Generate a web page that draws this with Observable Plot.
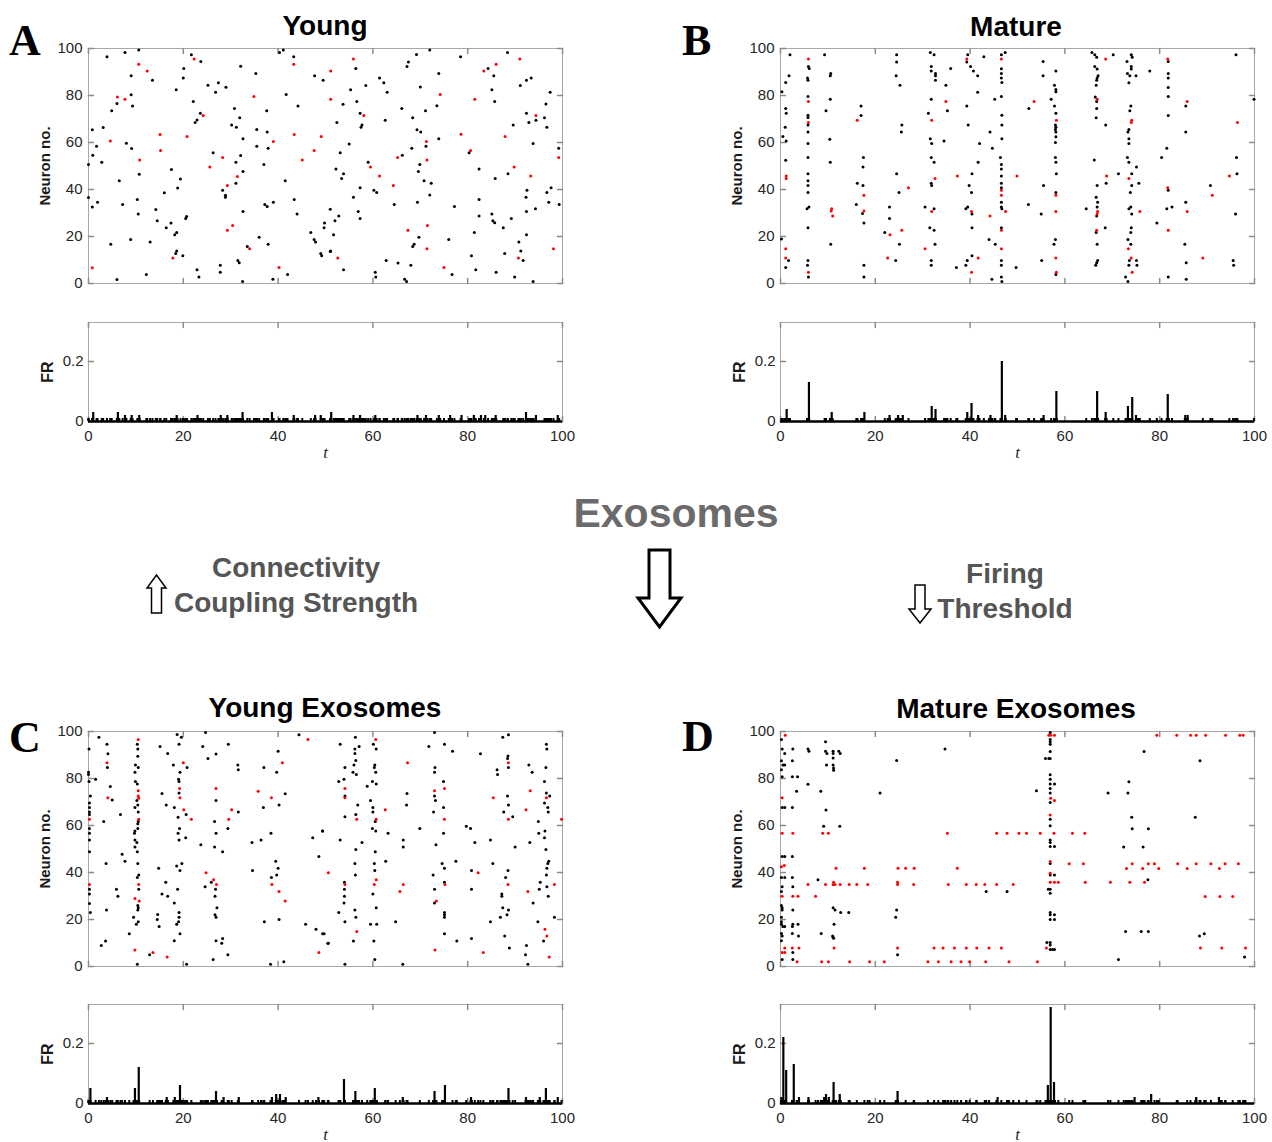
<!DOCTYPE html>
<html><head><meta charset="utf-8">
<script src="https://cdn.jsdelivr.net/npm/d3@7"></script>
<script src="https://cdn.jsdelivr.net/npm/@observablehq/plot@0.6"></script>
<style>
html,body{margin:0;padding:0;background:#fff;}
#root{position:relative;width:1272px;height:1142px;overflow:hidden;background:#fff;}
.p{position:absolute;}
#overlay{position:absolute;left:0;top:0;pointer-events:none;}
</style></head><body><div id="root"></div>
<script>
// ---------------- DATA ----------------
const youngBlack = [[3.9,96.5],[7.7,98.3],[10.6,99.4],[9,88.4],[13.5,86.5],[6,76.6],[9,80.3],[9.3,75.5],[4.9,73.5],[0.8,65.4],[3.1,66.4],[1.7,58.4],[0.9,54.6],[2.8,51.6],[0,50.6],[8,59.7],[9.1,57.4],[10.7,46.5],[6.5,43.7],[0,36.6],[1.9,34.6],[0.8,32.6],[7.2,33.6],[10.3,35.7],[10.5,29.6],[4.7,16.7],[8.9,18.7],[6,1.7],[12.2,3.8],[13,17.7],[14.2,31.5],[14.5,26.7],[16.4,23.7],[17.4,25.7],[16,38.6],[17.5,48.5],[19.4,44.5],[18.8,40.6],[18.2,20.7],[18.6,21.7],[20.5,27.7],[20.7,28.5],[18.4,12.8],[18.6,13.8],[19.9,11.8],[22.9,5.8],[23.3,2.8],[18.5,82.4],[20,87.5],[20.1,91.5],[21.7,97.3],[23.7,94.5],[22.1,77.4],[23.6,72.5],[22.9,69.6],[22.5,68.5],[25.2,84.4],[27.4,85.4],[26.8,81.4],[29,83.5],[26.3,55.6],[30.8,74.5],[31.9,70.5],[30.2,67.5],[31.2,66.5],[32.6,61.6],[32.1,54.5],[31.1,51.6],[32.6,47.7],[31.1,42.7],[28.3,39.7],[28.9,37.6],[28.9,36.7],[32.6,30.6],[33.5,15.7],[31.5,9.8],[31.8,8.8],[27.8,7.8],[27.8,4.8],[32.5,0.9],[32.1,92.5],[35.3,89.4],[37.6,73.5],[35.5,65.5],[37.7,64.5],[35.5,58.4],[37.9,57.6],[37,50.6],[37.2,33.6],[37.7,32.8],[39,34.6],[36,19.7],[37.9,16.7],[38.9,1.8],[42,3.8],[40.3,98.3],[41.1,99.4],[43.3,96.5],[41.7,80.4],[44.2,75.5],[41.5,43.7],[43.4,35.7],[44,29.6],[46.9,21.7],[47.6,18.7],[47.9,17.7],[49,12.8],[49.2,11.8],[49.7,23.7],[49.8,25.7],[51,31.6],[51,13.6],[47.7,88.4],[49.5,86.5],
[56.4,91.5],[55.3,82.4],[56.6,77.4],[53.7,76.3],[52.4,68.5],[57.3,72.5],[57.7,67.5],[57.5,66.5],[58.5,84.3],[61.4,87.5],[62.3,85.4],[63,81.4],[62.6,69.5],[55,59.4],[53.1,55.6],[52.2,48.7],[53.8,46.7],[53.4,44.7],[59,51.6],[57.3,40.7],[55.9,36.7],[60.2,39.7],[60.8,38.7],[64.5,33.6],[66.2,54.6],[68.2,57.6],[52.8,28.7],[52,26.7],[51.7,20.7],[56.9,30.6],[57.3,27.7],[51.1,13.8],[53.8,5.8],[60.5,4.8],[60.6,2.8],[62.8,9.8],[65.3,8.7],[68,7.8],[66.7,1.8],[67.1,0.9],[68.4,15.7],[68.7,16.7],[69.7,19.7],[69.4,34.6],[70.8,43.7],[72.3,42.7],[72,37.7],[69.6,47.7],[69.9,50.6],[71.2,58.4],[69.3,65.4],[70.1,64.5],[68.4,70.5],[66.1,74.5],[71.1,73.5],[70,83.6],[67.2,92.3],[67.5,94.3],[69.2,97.4],[72,99.4],[73.9,89.4],[73.5,75.6],[73.9,61.6],[78.5,96.5],[80.3,55.6],[82.4,48.7],[77.2,32.8],[82.4,35.7],[82.4,28.7],[81.4,21.7],[76,18.7],[80.8,11.8],[81.7,5.8],[76.7,3.8],[84.3,91.5],[85.5,88.4],[85.1,82.4],[85.7,77.4],[88.4,98.3],[91.1,84.3],[92.4,86.5],[93.4,87.5],[97.4,81.4],[96.5,76.4],[92.4,72.5],[92.9,68.5],[94.4,69.5],[96.2,70.5],[96.7,66.5],[89.6,67.5],[93.8,59.6],[99.2,57.6],[88.5,46.7],[85.8,44.7],[92.5,39.7],[92.3,36.7],[92.4,30.6],[94.3,31.8],[96.7,38.7],[97.6,40.7],[97.1,34.6],[99.3,33.6],[85.1,29.6],[85.3,26.7],[85.7,25.8],[87.5,23.7],[89.2,27.7],[92.4,20.7],[90.8,17.7],[91.2,13.8],[91.7,9.8],[87.8,12.8],[86,4.8],[89.9,2.8],[93.8,0.9]];
const youngRed = [[10.6,93.3],[12.4,90.4],[6.1,79.4],[7.7,78.4],[4.6,60.6],[10.8,52.6],[15.1,63.4],[15.2,56.6],[0.8,6.7],[17.8,10.8],[22.3,95.5],[24.2,71.5],[20.8,62.6],[28.3,53.6],[25.6,49.6],[31.4,45.5],[29.3,41.7],[30.4,24.7],[29.3,22.7],[34,14.8],[34.9,79.6],[39,60.4],[40.2,6.8],[43.3,93.3],[43.4,63.4],[49.1,62.6],[47.6,56.6],[45.1,52.6],[51.1,78.4],[51.1,90.4],[55.9,95.5],[58.1,71.5],[59.5,49.6],[61.4,45.7],[64.3,41.7],[65.2,53.6],[52.6,10.8],[67.4,22.7],[71.5,24.7],[71.4,14.8],[71.4,52.6],[71.3,60.4],[74.2,80.4],[81.5,78.4],[78.6,63.5],[80.6,56.6],[75,6.8],[83.4,90.4],[86,93.3],[91,95.5],[94.4,71.5],[87.9,62.6],[99.2,53.6],[89.8,49.6],[93.3,45.7],[90.7,10.8],[98.1,14.8]];

const matureBlack = [[2,97.3],[5.9,92.3],[6.05,91.5],[9.3,97.3],[1.8,88.4],[1.1,85.5],[0.3,81.6],[10.6,89.4],[10.5,88.4],[5.7,87.4],[5.8,86.5],[5.8,79.6],[10.5,78.4],[1.1,74.5],[1.2,72.5],[5.8,71.6],[5.8,70.6],[5.8,67.4],[5.8,64.5],[9.6,73.5],[17,75.5],[17,71.5],[1,66.5],[0.5,62.6],[1.2,60.6],[5.8,59.6],[10.4,61.4],[1.1,52.5],[5.8,53.6],[10.5,51.6],[17.5,53.6],[17.4,49.6],[5.8,46.7],[5.8,43.7],[5.8,41.7],[5.8,38.7],[16.2,42.7],[17.4,41.7],[16,33.6],[5.6,31.8],[6,32.6],[17.3,29.8],[17.6,25.7],[5.8,23.7],[0.2,18.9],[1.7,9.8],[1.1,6.8],[10.6,16.7],[5.8,9.8],[5.7,7.8],[5.9,2.8],[17.6,7.8],[17.6,2.8],[24.5,97.3],[24.5,94.3],[24.4,88.4],[25.2,84.4],[25.6,67.5],[25.5,64.5],[24.5,46.7],[25,38.7],[23,32.6],[23,27.7],[22,21.7],[25.1,16.7],[24.3,9.8],[31.6,98.3],[32.4,97.3],[31.8,92.3],[31.8,90.4],[32.7,89.4],[32.7,88.4],[32.7,86.5],[31.8,78.4],[31.2,72.5],[31.6,61.6],[31.9,59.6],[34.5,60.6],[31.8,53.6],[32.4,51.6],[31.8,42.7],[31.9,41.7],[30.5,32.6],[32.4,31.8],[31.5,23.7],[32.4,22.7],[32.6,16.7],[31.8,9.8],[31.8,7.8],[35.9,91.5],[34.9,84.4],[35.2,73.5],[37.1,6.8],[39.5,97.3],[40.1,92.3],[40.7,90.4],[41.6,88.4],[39.3,94.3],[42.9,96.5],[41.6,81.4],[39.3,75.5],[39.6,67.5],[42,59.6],[41.7,51.6],[40.4,46.7],[39.8,41.7],[40.3,38.7],[39.1,31.8],[39.5,32.6],[40.4,29.6],[40.4,23.7],[40.4,11.8],[39.4,9.8],[39.1,7.8],[44,18.7],[45.3,16.7],[44.7,57.6],[44.2,64.5],[45.2,78.4],[46.6,97.3],[47.4,98.3],[46.6,91.4],[46.6,89.4],[46.6,87.4],[46.7,85.5],[46.6,79.6],[46.7,71.6],[46.7,67.5],[46.7,61.6],[46.4,53.6],[46.6,50.6],[46.6,48.7],[46.6,45.7],[46.6,42.7],[46.6,40.7],[46.6,34.6],[46.6,32.6],[46.7,31.8],[46.6,23.7],[46.6,9.8],[46.6,7.8],[46.6,2.8],[46.7,0.9],[44.6,1.8],[49.7,6.8],
[55.4,94.5],[55.4,88.4],[58.1,90.4],[57.8,84.4],[58.1,82.6],[58.1,81.6],[57.1,78.4],[52.4,74.5],[57.8,75.5],[58.1,72.5],[58,67.5],[58.1,66.5],[58,65.5],[58.1,64.5],[58.1,62.5],[58,60],[58,53.6],[58.1,51.6],[58.2,46.7],[55.5,41.7],[58.1,38.7],[52.3,33.6],[55,29.6],[58,18.7],[57.7,16.7],[55.1,9.8],[58.1,3.8],[65.7,98.3],[66.3,97.3],[66.7,96.3],[70.2,97.3],[66.3,92.3],[66.8,91.3],[67,88.4],[66.8,87.4],[66.7,86.5],[66.6,84.4],[66.4,79.4],[66.7,77.4],[66.7,74.5],[66.6,70.5],[68.6,67.5],[66.2,52.6],[68.7,42.7],[66.8,41.7],[66.6,36.7],[66.9,34.6],[66.8,32.6],[66.7,28.7],[64.5,31.8],[66.6,21.7],[68.5,23.7],[66.8,16.7],[66.9,9.8],[66.7,8.8],[66.5,7.8],[71.3,46.7],[74,97.3],[74.2,96.3],[73.1,94.5],[74,92.3],[74,91.3],[73.2,89.4],[73.7,88.4],[75,88.4],[73.5,85.4],[77.9,90.4],[73.9,75.5],[73.7,73.5],[73.5,65.5],[73.3,64.5],[73.5,61.6],[73.5,59.6],[73.2,53.6],[73.5,51.6],[75.1,49.6],[74.1,46.7],[75.6,42.7],[74.1,41.7],[73.8,38.7],[73.9,32.6],[73.5,31.8],[74.1,29.6],[74,23.7],[73.9,21.7],[73.3,18.7],[73.9,16.7],[73.6,9.8],[73.5,7.8],[75.1,9.8],[75.2,7.8],[72.8,2.8],[73.3,0.9],[79.4,25.7],[80.4,53.6],[81.8,94.5],[81.8,89.4],[81.8,87.4],[81.8,83.4],[81.8,79.6],[81.8,71.5],[81.5,57.6],[81.8,39.7],[81.5,31.8],[82.6,32.6],[81.8,2.8],[85.5,75.5],[85.5,64.5],[85.5,34.6],[85.3,16.7],[85.6,8.8],[85.6,1.8],[90.7,41.7],[96.3,46.7],[96.2,53.6],[96.1,97.3],[96,29.6],[95.5,9.8],[95.6,7.8],[99.9,78.4]];
const matureRed = [[5.9,95.5],[5.9,77.4],[5.9,68.5],[16.2,69.5],[1.2,45.7],[1.2,44.7],[17.6,37.6],[10.8,31.8],[10.7,30.8],[11,28.7],[17.6,30.8],[1.1,14.8],[1.1,10.8],[5.9,4.8],[27,40.7],[23.1,20.7],[25.6,22.7],[22.6,10.8],[31.9,69.5],[32.6,44.7],[31.9,30.6],[30.5,14.8],[34.9,77.4],[37.3,45.7],[39.3,95.5],[40.3,30.6],[44.2,28.7],[41.7,10.8],[40.3,4.8],[46.6,95.5],[46.6,39.7],[46.6,37.6],[47.5,30.6],[46.6,22.7],[46.6,14.8],[49.9,45.7],[53.5,77.4],[58.2,69.5],[58.1,37.6],[58.1,30.6],[58.1,10.8],[58.2,4.8],[68.6,95.5],[66.8,78.4],[68.8,45.7],[66.9,30.6],[66.8,29.6],[66.7,22.7],[74.1,69.5],[74,68.5],[73.5,44.7],[75.8,30.6],[73.4,14.8],[74,10.8],[74.2,4.8],[81.7,95.5],[81.7,40.7],[81.8,22.7],[85.8,77.4],[85.8,30.6],[89.1,10.8],[91.1,37.6],[94.7,45.7],[96.4,68.5]];

const youngExoBlack = [[2.2,97.6],[0.1,92.6],[3.9,94.6],[4.1,90.5],[4,84.7],[0,82.7],[0,81.7],[1.5,79.7],[0.1,78.7],[4.6,76.6],[0.4,72.6],[5,70.8],[0.2,69.6],[0.2,67.7],[0.2,65.7],[0.2,64.7],[6.75,64.7],[3.2,61.7],[0.2,58.7],[0.2,56.7],[0.2,53.8],[0.2,48.8],[7.1,47.8],[7.7,44.8],[3.7,43.8],[0.2,32.9],[0.2,30.9],[5.9,32.9],[6.2,29.9],[0.2,26.8],[0.4,23],[3.8,24],[3.6,10.9],[2.7,8.9],[10.3,94.6],[10.4,92.6],[10.4,89.5],[9.9,85.7],[10.5,84.7],[9.8,82.7],[9.9,78.7],[10.3,77.7],[10.2,70.6],[9.8,67.7],[10.4,68.7],[10.5,65.7],[10.5,61.7],[10.4,60.7],[10.4,58.7],[9.8,57.7],[9.7,56.7],[9.8,53.8],[10.2,52.8],[9.8,50.8],[10.3,48.8],[10.4,43.8],[10.6,38.9],[10.3,37.9],[10.6,32.9],[10.4,26],[10.5,25],[10.4,24],[9.5,21],[10.1,18],[10.5,19],[8.6,13.9],[10.3,1],[12.9,5],[15.1,93.6],[16.7,90.6],[17.9,85.7],[18.7,98.7],[19.6,97.6],[19.1,94.6],[20.8,84.7],[19.3,82.7],[19,79.7],[19.1,78.7],[19.1,73.8],[15.5,73.6],[16.4,68.7],[18.1,67.7],[18.9,63.5],[20.6,64.7],[19.2,58.7],[18.9,56.7],[19.1,53.8],[20.5,54.8],[14.8,41.8],[18.6,42.8],[19.7,43.8],[19.3,40.9],[16.3,35.9],[18.8,32.9],[15.5,30.9],[16.7,29.9],[18.1,27],[19.1,23],[19.1,21],[19,19],[14.6,22.1],[14.5,20],[14.9,17],[18.6,18],[19.3,13.9],[18.1,11],[20.7,1],[24.7,99.6],[24.1,93.6],[25.2,88.5],[26.9,90.4],[26.9,70.6],[26.6,61.7],[26.9,56.7],[26.6,50.8],[23.7,51.8],[28.3,48.8],[25.9,35.9],[24.6,33.9],[26.8,32.9],[26.7,29.9],[27.1,25],[26.7,22],[26.9,21],[26.9,11],[28.3,11.9],[28.1,9.9],[26.3,3],[29.4,5],[29.5,94.6],[31.5,85.7],[31.6,83.7],[31.6,65.7],[29.4,58.7],[37,84.7],[36.9,67.7],[34.5,52.8],[36.4,53.8],[38.5,56.7],[34.6,40.9],[40.2,68.7],[41.5,73.5],[39.7,82.7],[40,91.6],[39.5,44.8],[40,41.8],[39.7,38.9],[38.6,37.9],[37.1,19],[40.2,20],[38.4,1],[41.2,2],[44.4,98.6],[47.3,54.8],[49.4,57.7],[48.6,46.8],[45.8,18],[48,15.9],[49.7,13.9],[50.6,9.9],
[56.3,97.6],[53.1,94.6],[56.2,92.6],[56.2,90.6],[57.1,93.6],[60.1,94.6],[60.7,92.6],[56.4,87.7],[56,85.7],[55.8,82.7],[56.5,81.7],[54.1,84.7],[60.4,85.7],[60.3,84.7],[60.6,82.7],[59.9,78.7],[60.7,77.7],[58.8,76.7],[52.8,78.7],[53.9,79.7],[54.1,72.6],[56.8,68.7],[56.4,64.7],[59.5,70.6],[60,67.7],[60,65.7],[60.5,61.7],[59.9,58.7],[60.6,57.7],[63.2,56.7],[54.1,63.7],[49.4,57.7],[53.1,53.8],[57.7,52.8],[56.4,49.8],[56.2,43.8],[56.3,38.9],[54,35.9],[54,32.9],[54,29.9],[53.9,27],[60.5,48.8],[60.3,43.8],[60.4,40.9],[60,30.9],[60.7,25],[62.7,44.8],[66.4,53.8],[66.4,50.8],[69.9,58.7],[67.2,73.6],[67.1,68.7],[52.8,23],[56.2,24],[56.4,21],[54.1,19],[55.9,10.9],[59.5,18],[60.8,18],[60.2,10.9],[60.4,3],[54.1,1],[64.8,19],[66.3,1],[49.4,13.9],[50.5,9.9],[73,99.6],[71.8,93.6],[75.1,94.6],[76.8,91.6],[73.1,84.7],[73,82.7],[74.9,78.7],[73,72.6],[73.2,70.6],[74.9,67.7],[72.8,65.7],[74.9,56.7],[73.3,51.8],[74.6,43.8],[75.1,41.8],[72.7,38.9],[75.1,35.9],[73,32.9],[73,27],[75.1,23],[75.1,22],[75.1,21],[75.1,13.9],[77.5,44.8],[77.7,10.9],[80.8,11.9],[79.7,59.7],[80.6,58.7],[81.5,52.8],[80.8,40.9],[80.8,32.9],[82.7,90.5],[84.8,53.8],[85.3,43.8],[87.4,97.6],[88.6,98.6],[88.5,89.6],[88.4,88.5],[88.6,84.7],[86.2,83.7],[86.3,81.7],[88.4,72.6],[88.6,68.7],[87.6,65.7],[89.5,63.7],[90,50.8],[88.5,40.9],[88,37.9],[87.2,30.9],[87.2,29.9],[87.4,25],[88.6,24],[86.9,21],[88.3,22],[84.8,19],[87.8,13],[88.8,7.9],[92.9,85.7],[93.6,82.7],[93.1,52.8],[96.6,94.6],[96.7,92.6],[96.5,84.7],[96.2,78.7],[96.6,73.8],[97.3,72.6],[96.2,69.6],[96.9,67.7],[97,65.7],[94.9,61.7],[96.3,57.7],[95,56.7],[96.2,54.8],[96.5,49.8],[97.1,44.8],[96.9,43.8],[96.7,41.8],[96.6,38.9],[95.3,35.9],[95.1,32.9],[96.7,33.9],[97,29.9],[93.8,27],[98.3,21],[94.8,19],[96,10.9],[92.4,8.9],[92.2,5],[92.7,1]];
const youngExoRed = [[10.5,96.6],[3.9,86.7],[4.1,71.8],[0.2,62.7],[0.2,34.9],[10.5,74.8],[10.5,72.6],[10.6,71.6],[10.6,62.7],[10.6,34.9],[9.8,28.9],[10.7,27.9],[9.8,7],[13.6,6],[16.6,4],[20,86.7],[19.2,75.7],[19.3,71.8],[20.1,66.7],[21.7,62.7],[26.9,75.7],[24.8,39.9],[26.4,36.9],[27,34.9],[30.2,66.7],[29.6,62.7],[35.8,74.6],[38.6,71.8],[40.9,86.7],[38.7,34.9],[40.2,31.9],[41.5,27.9],[46.3,96.6],[50.6,39.9],[48.6,6],[60.6,96.6],[54.1,75.7],[54.1,71.8],[56.6,62.7],[60.7,62.7],[62.6,66.7],[54.1,34.9],[60.7,36.9],[60.3,34.9],[66.4,34.9],[65.7,31.9],[67.3,86.7],[56.6,14.9],[73,74.8],[75.1,75.7],[75.1,62.7],[75.2,34.9],[73.4,27.9],[73.1,7],[82.2,39.9],[83.3,6],[85.4,71.8],[88.6,86.7],[88.6,62.7],[88.5,34.9],[93.2,74.8],[92.3,66.7],[96.6,71.8],[98.3,34.9],[92.7,31.9],[96.3,15.9],[96.7,13],[97.2,4],[99.8,62.7]];

const matureExoBlack = [[0.2,96.6],[0.35,92.6],[0.9,90.6],[0.2,87.6],[0.5,85.7],[0.9,85.7],[0.2,83.7],[0.35,80.7],[2.6,92.6],[2.5,87.6],[2.5,80.7],[3.6,80.7],[5.8,92.6],[6,91.6],[9.5,95.6],[9.5,91.6],[9.8,90.6],[11.1,91.6],[11.1,90.6],[12.3,91.6],[12.6,90.6],[11.1,88.7],[9.7,85.7],[11.1,85.7],[11.2,84.5],[11.2,83.5],[5.8,77.6],[3.4,74.6],[8.5,74.6],[0.35,67.7],[0.9,67.7],[2.5,67.7],[9.6,66.6],[9.1,59.7],[12.5,59.7],[0.35,46.8],[0.9,46.8],[2.5,46.8],[0.2,37.9],[0.9,37.9],[2.5,37.9],[7.9,36.9],[0.35,33.9],[2.6,33.9],[0.2,31.9],[0.2,26],[0.35,25],[0.35,24],[2.6,24],[11.1,25],[11.5,24],[12.7,23],[14.4,23],[0.2,21],[0.2,19],[0.2,18],[0.5,17],[0.9,17],[2.6,18],[2.5,17],[3.7,18],[11.3,18],[0.2,14],[0.35,13],[2.5,14],[3.8,13],[8.6,14],[11,13],[11.2,12],[11.1,12.5],[0.2,11],[2.6,6],[0.35,3],[2.6,3],[24.5,87.7],[21,73.8],[24.5,24],[24.3,21],[24.7,5],[34.7,92.6],[43.4,31.9],[47.8,31.9],
[56.9,99.6],[56.9,96.6],[56.9,95.6],[56.9,94.6],[56.9,91.5],[56.9,88.5],[56.9,81.6],[56.9,79.7],[56.9,77.7],[56.9,75.7],[56.9,73.8],[56.9,69.8],[56.9,62.7],[56.9,59.9],[56.9,53.8],[56.9,52.8],[56.9,51.1],[56.9,43.8],[56.9,38.9],[56.9,32.9],[56.9,31.2],[56.9,23],[56.9,22],[56.9,20],[56.9,10.2],[56.9,9.1],[56.9,7.2],[55.9,88.5],[56.6,88.5],[57.8,77.7],[57.8,51.1],[57.8,38.9],[56.5,32.9],[57.8,22],[57.8,20],[56.2,10.2],[57.4,7.2],[57.8,7.2],[54,74.8],[76.7,91.5],[88.5,87.6],[73.5,78.6],[69.1,73.8],[73.3,73.8],[74.1,63.5],[74.2,58.6],[77.6,58.6],[87.5,63.5],[72.4,50.8],[76.5,50.8],[77.5,36.9],[72.8,14.9],[76.1,14.9],[77.6,14.9],[88.4,13],[89.4,13.9],[97.9,4],[71.3,3]];
const matureExoRed = [[1,98.4],[0.35,71.8],
[0.35,56.7],[2.6,56.7],[8.9,56.7],[10.1,56.7],[35.2,56.7],[45.6,56.7],[47.8,56.7],[50.3,56.7],[51.9,56.7],[54.8,56.7],[57.7,56.7],[61.6,56.7],[64.2,56.7],
[0.2,42.5],[0.8,43],[11.7,41.8],[17.7,41.8],[24.8,41.8],[26.4,41.8],[28.2,41.8],[37.3,41.8],[60.9,43.7],[63.9,43.7],[74.2,43.7],[77.6,43.7],[78.9,43.7],[83.8,43.7],[87.7,43.7],[90.8,43.7],[93.8,43.7],[96.6,43.7],[73,41.7],[76.4,41.7],[79.8,41.7],[85.8,41.7],[92.6,41.7],
[5.8,34.9],[9.5,34.9],[11.1,34.9],[11.2,35.9],[11.5,34.9],[12.6,34.9],[14.5,34.9],[16.1,34.9],[18.4,34.9],[24.7,34.9],[24.7,35.9],[28.1,34.9],[35.4,34.9],[39.2,34.9],[41.3,34.9],[43.1,34.9],[45.6,34.9],[49.1,34.9],[64.3,35.9],[69.6,35.9],[73.7,35.9],[76.8,35.9],
[0.35,29.9],[2.6,29.9],[3.7,29.9],[7.4,29.9],[89.6,29.8],[92.7,29.8],[95.4,29.8],
[0.9,7.9],[2.5,7.9],[3.9,7.9],[11.3,7.9],[24.7,7.9],[32.4,7.9],[34.3,7.9],[36.7,7.9],[39.2,7.9],[41.4,7.9],[44,7.9],[46.6,7.9],[56.1,7.9],[88.6,7.9],[93.1,7.9],[98.1,7.9],
[0.35,6],[0.9,6],
[3.5,2],[8.7,2],[10.1,2],[14.6,2],[18.8,2],[21.9,2],[31.1,2],[33.3,2],[36,2],[38.1,2],[39.9,2],[43.3,2],[48.2,2],[54.2,2],
[56.6,98.4],[57,98.4],[57.8,98.4],[79.4,98.4],[83.6,98.4],[86.5,98.4],[87.7,98.4],[89.7,98.4],[93.9,98.4],[96.9,98.4],[97.6,98.4],
[57,71.6],[57.8,70.6],[56.9,64.5],[56.9,44.7],[56.9,39.7],[56.9,35.9],[57.8,35.9],[58.6,35.9]];

// firing-rate peaks above the single-spike level (t, FR)
const youngFR = [[1,0.03],[6.2,0.03],[7.7,0.02],[9.1,0.02],[10.7,0.02],[18.6,0.02],[23,0.02],[27.9,0.02],[29.3,0.02],[32.5,0.03],[38.7,0.03],[43.3,0.02],[47.8,0.02],[49,0.02],[51.2,0.03],[55.9,0.02],[57.3,0.02],[60.5,0.02],[69.4,0.02],[71.2,0.02],[73.9,0.02],[76.3,0.02],[78.7,0.02],[81.3,0.02],[82.8,0.02],[83.7,0.02],[85.9,0.02],[92.3,0.03],[94.4,0.02],[99,0.02]];
const matureFR = [[1.3,0.04],[6,0.13],[10.8,0.03],[17.7,0.03],[23,0.02],[24.8,0.02],[25.8,0.02],[31.9,0.05],[32.7,0.04],[39.4,0.03],[40.3,0.06],[41.7,0.02],[44.3,0.02],[46.7,0.2],[47.4,0.02],[55.5,0.02],[58.2,0.1],[66.8,0.1],[68.6,0.03],[73.3,0.05],[74.2,0.08],[75,0.02],[81.7,0.09],[85.4,0.02],[85.9,0.02]];
const youngExoFR = [[0.4,0.05],[3.9,0.02],[9.8,0.05],[10.6,0.12],[16.5,0.02],[18.2,0.02],[19.3,0.06],[26.9,0.04],[28.5,0.02],[31.7,0.02],[38.7,0.02],[39.6,0.03],[40.4,0.03],[41.6,0.02],[48.5,0.02],[53.9,0.08],[56.3,0.04],[60.4,0.05],[66.3,0.02],[73,0.04],[75.2,0.06],[80.7,0.02],[88.6,0.05],[92.3,0.02],[95.2,0.02],[96.5,0.05],[99,0.02]];
const matureExoFR = [[0.2,0.02],[0.6,0.22],[1.2,0.11],[2.8,0.13],[3.9,0.02],[5.9,0.02],[9.2,0.02],[9.6,0.03],[10.2,0.02],[11.2,0.07],[12.5,0.03],[24.7,0.04],[45.8,0.02],[56.4,0.06],[57,0.32],[57.7,0.07],[74.7,0.02],[78.2,0.03],[87.7,0.02],[92.5,0.02]];

const N = 100;                       // neurons
const tTicks = [0, 20, 40, 60, 80, 100];
const nTicks = [0, 20, 40, 60, 80, 100];
const frTicks = [0, 0.2];
const titles = ["Young", "Mature", "Young Exosomes", "Mature Exosomes"];
const letters = ["A", "B", "C", "D"];

// ---------------- DRAW ----------------
const root = document.getElementById("root");
const FONT = "'Liberation Sans', Arial, Helvetica, sans-serif";
const tickShape = {draw(ctx, l) { ctx.moveTo(0, 0); ctx.lineTo(0, -l); }};
const TICKC = "#8c8c8c";
function yTicksIn(ticks) {
  return [
    Plot.vector(ticks, {y: d => d, frameAnchor: "left", rotate: 90, length: 5, anchor: "start", shape: tickShape, stroke: TICKC}),
    Plot.vector(ticks, {y: d => d, frameAnchor: "right", rotate: -90, length: 5, anchor: "start", shape: tickShape, stroke: TICKC})
  ];
}
function xTicksIn(ticks) {
  return [
    Plot.vector(ticks, {x: d => d, frameAnchor: "bottom", rotate: 0, length: 5, anchor: "start", shape: tickShape, stroke: TICKC}),
    Plot.vector(ticks, {x: d => d, frameAnchor: "top", rotate: 180, length: 5, anchor: "start", shape: tickShape, stroke: TICKC})
  ];
}
function place(svg, left, top) {
  const d = document.createElement("div");
  d.className = "p"; d.style.left = left + "px"; d.style.top = top + "px";
  d.appendChild(svg); root.appendChild(d);
}
const style = {fontFamily: FONT, fontSize: "15px", background: "transparent", overflow: "visible", color: "#262626"};
const fmt = d => d === 0 ? "0" : String(d);

function raster(black, red, left, top) {
  place(Plot.plot({
    width: 575, height: 258, marginLeft: 88, marginRight: 13, marginTop: 10, marginBottom: 13,
    x: {domain: [0, 100], axis: null}, y: {domain: [0, 100]},
    style,
    marks: [
      Plot.frame({stroke: "#a8a8a8"}),
      ...yTicksIn(nTicks), ...xTicksIn(tTicks),
      Plot.axisY(nTicks, {tickSize: 0, tickPadding: 6, fontSize: 15, fill: "#262626", label: null, tickFormat: fmt}),
      Plot.text(["Neuron no."], {text: d => d, frameAnchor: "left", textAnchor: "middle", dx: -43, rotate: -90, fontWeight: "bold", fontSize: 15, fill: "#1a1a1a"}),
      Plot.dot(black, {x: d => d[0], y: d => d[1], r: 1.5, fill: "#000", stroke: null}),
      Plot.dot(red, {x: d => d[0], y: d => d[1], r: 1.5, fill: "#ff0000", stroke: null})
    ]
  }), left, top);
}
function fr(spikes, peaks, left, top, h) {
  place(Plot.plot({
    width: 575, height: h, marginLeft: 88, marginRight: 13, marginTop: 10, marginBottom: h - 109,
    x: {domain: [0, 100]}, y: {domain: [0, 0.33]},
    style,
    marks: [
      Plot.frame({stroke: "#a8a8a8"}),
      ...yTicksIn(frTicks), ...xTicksIn(tTicks),
      Plot.axisX(tTicks, {tickSize: 0, tickPadding: 9, fontSize: 15, fill: "#262626", label: null, tickFormat: fmt}),
      Plot.axisY(frTicks, {tickSize: 0, tickPadding: 5, fontSize: 15, fill: "#262626", label: null, tickFormat: fmt}),
      Plot.text(["FR"], {text: d => d, frameAnchor: "left", textAnchor: "middle", dx: -41, rotate: -90, fontWeight: "bold", fontSize: 16, fill: "#1a1a1a"}),
      Plot.text(["t"], {text: d => d, frameAnchor: "bottom", textAnchor: "middle", dy: 36, fontStyle: "italic", fontFamily: "'Liberation Serif', 'Times New Roman', serif", fontSize: 17, fill: "#262626"}),
      Plot.ruleX(spikes, {x: d => d[0], y1: 0, y2: () => 1 / N, stroke: "#000", strokeWidth: 2}),
      Plot.ruleX(peaks, {x: d => d[0], y1: 0, y2: d => d[1], stroke: "#000", strokeWidth: 2.2}),
      Plot.ruleY([0], {stroke: "#000", strokeWidth: 2.5})
    ]
  }), left, top);
}

raster(youngBlack, youngRed, 0, 38);
raster(matureBlack, matureRed, 692, 38);
raster(youngExoBlack, youngExoRed, 0, 721);
raster(matureExoBlack, matureExoRed, 692, 721);
fr(youngBlack.concat(youngRed), youngFR, 0, 312, 160);
fr(matureBlack.concat(matureRed), matureFR, 692, 312, 160);
fr(youngExoBlack.concat(youngExoRed), youngExoFR, 0, 994, 148);
fr(matureExoBlack.concat(matureExoRed), matureExoFR, 692, 994, 148);

// annotations overlay
const NS = "http://www.w3.org/2000/svg";
const ov = document.createElementNS(NS, "svg");
ov.setAttribute("id", "overlay"); ov.setAttribute("width", 1272); ov.setAttribute("height", 1142);
function txt(s, x, y, size, opts = {}) {
  const t = document.createElementNS(NS, "text");
  t.textContent = s;
  t.setAttribute("x", x); t.setAttribute("y", y);
  t.setAttribute("font-size", size);
  t.setAttribute("font-family", opts.family || FONT);
  t.setAttribute("font-weight", opts.weight || "bold");
  t.setAttribute("fill", opts.fill || "#000");
  t.setAttribute("text-anchor", opts.anchor || "middle");
  ov.appendChild(t);
}
function path(d, sw) {
  const p = document.createElementNS(NS, "path");
  p.setAttribute("d", d); p.setAttribute("fill", "#fff"); p.setAttribute("stroke", "#000");
  p.setAttribute("stroke-width", sw); p.setAttribute("stroke-linejoin", "miter");
  ov.appendChild(p);
}
const SERIF = "'Liberation Serif', 'Times New Roman', serif";
txt(titles[0], 325, 35, 28);
txt(titles[1], 1016, 36, 28);
txt(titles[2], 325, 717, 28);
txt(titles[3], 1016, 718, 28);
txt(letters[0], 9, 55, 44, {family: SERIF, anchor: "start"});
txt(letters[1], 682, 55, 44, {family: SERIF, anchor: "start"});
txt(letters[2], 9, 752, 44, {family: SERIF, anchor: "start"});
txt(letters[3], 682, 751, 44, {family: SERIF, anchor: "start"});
txt("Exosomes", 676, 527, 41, {fill: "#6b6b6b"});
txt("Connectivity", 296, 577, 28, {fill: "#555"});
txt("Coupling Strength", 296, 612, 28, {fill: "#555"});
txt("Firing", 1005, 583, 28, {fill: "#555"});
txt("Threshold", 1005, 618, 28, {fill: "#555"});
path("M649,550 H670 V598 H681 L659.5,627 L638,598 H649 Z", 3);
path("M151.5,613 V588 H147 L156.5,575 L166,588 H161.5 V613 Z", 1.5);
path("M915,585 H925 V609 H931 L920,623 L909,609 H915 Z", 1.5);
root.appendChild(ov);
</script>
</body></html>
